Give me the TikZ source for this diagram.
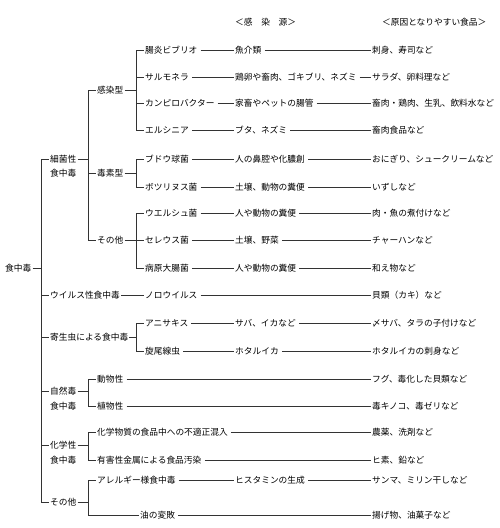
\documentclass[tikz,border=0pt]{standalone}
\usepackage{fontspec}
\newfontfamily\jp{Noto Sans CJK JP}
\begin{document}
\begin{tikzpicture}[x=1pt,y=-1pt,
  t/.style={anchor=west,inner xsep=1pt,inner ysep=1pt,font=\jp\fontsize{8.7}{10}\selectfont},
  ln/.style={line width=0.8pt,draw=black!80}]
\useasboundingbox (0,0) rectangle (500,528);
\coordinate (X1) at (41,0);
\coordinate (X2) at (88,0);
\coordinate (X3) at (136,0);
% headers
\node[t] (h1) at (234,22) {＜感　染　源＞};
\node[t] (h2) at (381,22) {＜原因となりやすい食品＞};
% root and level 1
\node[t] (root) at (4,268) {食中毒};
\node[t] (s1) at (49,159) {細菌性};
\node[t] (s1b) at (49,173) {食中毒};
\node[t] (v1) at (49,295) {ウイルス性食中毒};
\node[t] (p1) at (49,337) {寄生虫による食中毒};
\node[t] (n1) at (49,391) {自然毒};
\node[t] (n1b) at (49,406) {食中毒};
\node[t] (c1) at (49,445) {化学性};
\node[t] (c1b) at (49,460) {食中毒};
\node[t] (o1) at (49,502) {その他};
% level 2 under 細菌性
\node[t] (k) at (96,90) {感染型};
\node[t] (d) at (96,173) {毒素型};
\node[t] (e) at (96,240) {その他};
% leaves col 3
\node[t] (a1) at (144,50) {腸炎ビブリオ};
\node[t] (a2) at (144,77) {サルモネラ};
\node[t] (a3) at (144,103) {カンピロバクター};
\node[t] (a4) at (144,130) {エルシニア};
\node[t] (a5) at (144,159) {ブドウ球菌};
\node[t] (a6) at (144,187) {ボツリヌス菌};
\node[t] (a7) at (144,213) {ウエルシュ菌};
\node[t] (a8) at (144,240) {セレウス菌};
\node[t] (a9) at (144,268) {病原大腸菌};
\node[t] (a10) at (144,295) {ノロウイルス};
\node[t] (a11) at (144,323) {アニサキス};
\node[t] (a12) at (144,351) {旋尾線虫};
\node[t] (a13) at (96,379) {動物性};
\node[t] (a14) at (96,406) {植物性};
\node[t] (a15) at (96,432) {化学物質の食品中への不適正混入};
\node[t] (a16) at (96,460) {有害性金属による食品汚染};
\node[t] (a17) at (96,480) {アレルギー様食中毒};
\node[t] (a18) at (139,515) {油の変敗};
% middle column
\node[t] (m1) at (234,50) {魚介類};
\node[t] (m2) at (234,77) {鶏卵や畜肉、ゴキブリ、ネズミ};
\node[t] (m3) at (234,103) {家畜やペットの腸管};
\node[t] (m4) at (234,130) {ブタ、ネズミ};
\node[t] (m5) at (234,159) {人の鼻腔や化膿創};
\node[t] (m6) at (234,187) {土壌、動物の糞便};
\node[t] (m7) at (234,213) {人や動物の糞便};
\node[t] (m8) at (234,240) {土壌、野菜};
\node[t] (m9) at (234,268) {人や動物の糞便};
\node[t] (m11) at (234,323) {サバ、イカなど};
\node[t] (m12) at (234,351) {ホタルイカ};
\node[t] (m17) at (234,480) {ヒスタミンの生成};
% right column
\node[t] (r1) at (371,50) {刺身、寿司など};
\node[t] (r2) at (371,77) {サラダ、卵料理など};
\node[t] (r3) at (371,103) {畜肉・鶏肉、生乳、飲料水など};
\node[t] (r4) at (371,130) {畜肉食品など};
\node[t] (r5) at (371,159) {おにぎり、シュークリームなど};
\node[t] (r6) at (371,187) {いずしなど};
\node[t] (r7) at (371,213) {肉・魚の煮付けなど};
\node[t] (r8) at (371,240) {チャーハンなど};
\node[t] (r9) at (371,268) {和え物など};
\node[t] (r10) at (371,295) {貝類（カキ）など};
\node[t] (r11) at (371,323) {〆サバ、タラの子付けなど};
\node[t] (r12) at (371,351) {ホタルイカの刺身など};
\node[t] (r13) at (371,379) {フグ、毒化した貝類など};
\node[t] (r14) at (371,406) {毒キノコ、毒ゼリなど};
\node[t] (r15) at (371,432) {農薬、洗剤など};
\node[t] (r16) at (371,460) {ヒ素、鉛など};
\node[t] (r17) at (371,480) {サンマ、ミリン干しなど};
\node[t] (r18) at (371,515) {揚げ物、油菓子など};
% main bus
\draw[ln] (root.east) -- (X1 |- root.east);
\draw[ln] (X1 |- s1.west) -- (X1 |- o1.west);
\foreach \n in {s1,v1,p1,n1,c1,o1} \draw[ln] (X1 |- \n.west) -- (\n.west);
% 細菌性
\draw[ln] (s1.east) -- (X2 |- s1.east);
\draw[ln] (X2 |- k.west) -- (X2 |- e.west);
\foreach \n in {k,d,e} \draw[ln] (X2 |- \n.west) -- (\n.west);
% 感染型
\draw[ln] (k.east) -- (X3 |- k.east);
\draw[ln] (X3 |- a1.west) -- (X3 |- a4.west);
\foreach \n in {a1,a2,a3,a4} \draw[ln] (X3 |- \n.west) -- (\n.west);
% 毒素型
\draw[ln] (d.east) -- (X3 |- d.east);
\draw[ln] (X3 |- a5.west) -- (X3 |- a6.west);
\foreach \n in {a5,a6} \draw[ln] (X3 |- \n.west) -- (\n.west);
% その他
\draw[ln] (e.east) -- (X3 |- e.east);
\draw[ln] (X3 |- a7.west) -- (X3 |- a9.west);
\foreach \n in {a7,a8,a9} \draw[ln] (X3 |- \n.west) -- (\n.west);
% ウイルス
\draw[ln] (v1.east) -- (a10.west);
% 寄生虫
\draw[ln] (p1.east) -- (X3 |- p1.east);
\draw[ln] (X3 |- a11.west) -- (X3 |- a12.west);
\foreach \n in {a11,a12} \draw[ln] (X3 |- \n.west) -- (\n.west);
% 自然毒
\draw[ln] (n1.east) -- (X2 |- n1.east);
\draw[ln] (X2 |- a13.west) -- (X2 |- a14.west);
\foreach \n in {a13,a14} \draw[ln] (X2 |- \n.west) -- (\n.west);
% 化学性
\draw[ln] (c1.east) -- (X2 |- c1.east);
\draw[ln] (X2 |- a15.west) -- (X2 |- a16.west);
\foreach \n in {a15,a16} \draw[ln] (X2 |- \n.west) -- (\n.west);
% その他 (bottom)
\draw[ln] (o1.east) -- (X2 |- o1.east);
\draw[ln] (X2 |- a17.west) -- (X2 |- a18.west);
\foreach \n in {a17,a18} \draw[ln] (X2 |- \n.west) -- (\n.west);
% leaf chains via middle column
\foreach \a/\m/\r in {a1/m1/r1,a2/m2/r2,a3/m3/r3,a4/m4/r4,a5/m5/r5,a6/m6/r6,a7/m7/r7,a8/m8/r8,a9/m9/r9,a11/m11/r11,a12/m12/r12,a17/m17/r17}{
  \draw[ln] ([xshift=2pt]\a.east) -- (\m.west);
  \draw[ln] ([xshift=2pt]\m.east) -- (\r.west);
}
% direct leaf chains
\foreach \a/\r in {a10/r10,a13/r13,a14/r14,a15/r15,a16/r16,a18/r18}
  \draw[ln] ([xshift=2pt]\a.east) -- (\r.west);
\end{tikzpicture}
\end{document}
